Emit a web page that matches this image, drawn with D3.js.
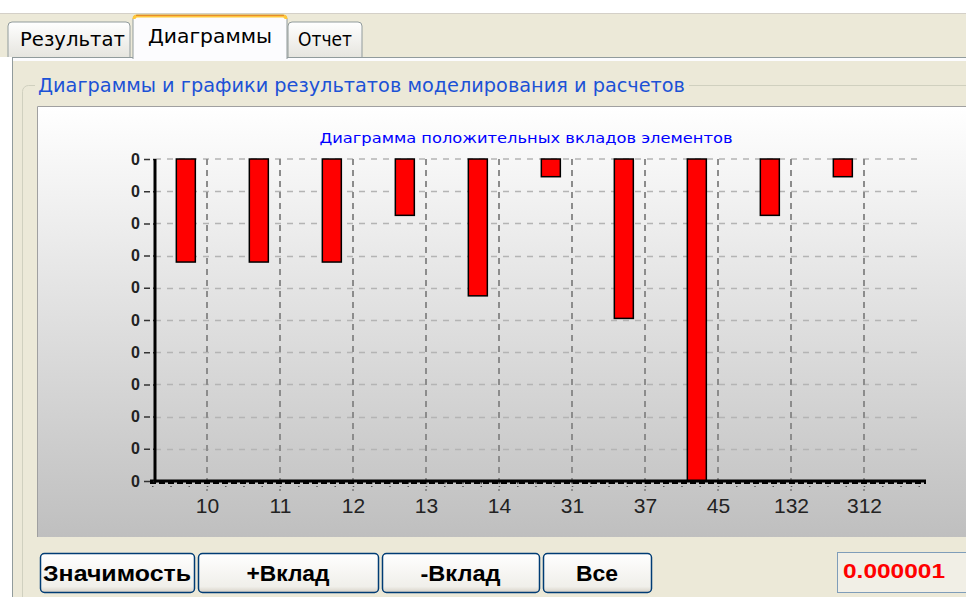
<!DOCTYPE html>
<html>
<head>
<meta charset="utf-8">
<script src="https://cdn.jsdelivr.net/npm/d3@7"></script>
<style>
  body { margin: 0; background: #ffffff; }
  svg { display: block; }
</style>
</head>
<body>
<script>
// chart data
var categories = ["10", "11", "12", "13", "14", "31", "37", "45", "132", "312"];
var contributions = [3.2e-7, 3.2e-7, 3.2e-7, 1.75e-7, 4.25e-7, 0.55e-7, 4.95e-7, 10e-7, 1.75e-7, 0.55e-7];
var yMax = 1e-6;

// texts of the window
var tabLabels = ["Результат", "Диаграммы", "Отчет"];
var groupTitle = "Диаграммы и графики результатов моделирования и расчетов";
var chartTitle = "Диаграмма положительных вкладов элементов";
var buttonLabels = ["Значимость", "+Вклад", "-Вклад", "Все"];
var thresholdText = "0.000001";

var w = 966, h = 597;

var svg = d3.select("body").append("svg")
  .attr("width", w)
  .attr("height", h);

var defs = svg.append("defs");

// gradients
var g1 = defs.append("linearGradient").attr("id", "panelGrad").attr("x1", 0).attr("y1", 0).attr("x2", 0).attr("y2", 1);
g1.append("stop").attr("offset", "0%").attr("stop-color", "#ffffff");
g1.append("stop").attr("offset", "100%").attr("stop-color", "#bfbfbf");

var g2 = defs.append("linearGradient").attr("id", "tabGrad").attr("x1", 0).attr("y1", 0).attr("x2", 0).attr("y2", 1);
g2.append("stop").attr("offset", "0%").attr("stop-color", "#ffffff");
g2.append("stop").attr("offset", "100%").attr("stop-color", "#e6e5df");

var g3 = defs.append("linearGradient").attr("id", "btnGrad").attr("x1", 0).attr("y1", 0).attr("x2", 0).attr("y2", 1);
g3.append("stop").attr("offset", "0%").attr("stop-color", "#ffffff");
g3.append("stop").attr("offset", "85%").attr("stop-color", "#f0efea");
g3.append("stop").attr("offset", "100%").attr("stop-color", "#d6d0c5");

// ---------- window frame ----------
svg.append("rect").attr("x", 0).attr("y", 0).attr("width", w).attr("height", h).attr("fill", "#ffffff");
svg.append("rect").attr("x", 0).attr("y", 13).attr("width", w).attr("height", 44).attr("fill", "#ece9d8");
svg.append("line").attr("x1", 0).attr("x2", w).attr("y1", 13.5).attr("y2", 13.5).attr("stroke", "#d4d0c8");

// tab page
svg.append("rect").attr("x", 12).attr("y", 57).attr("width", w).attr("height", h).attr("fill", "#ece9d8");
svg.append("line").attr("x1", 12).attr("x2", w).attr("y1", 57.5).attr("y2", 57.5).attr("stroke", "#919b9c");
svg.append("line").attr("x1", 12).attr("x2", w).attr("y1", 59.5).attr("y2", 59.5).attr("stroke", "#fcfcfe").attr("stroke-width", 3);
svg.append("line").attr("x1", 12.5).attr("x2", 12.5).attr("y1", 57).attr("y2", h).attr("stroke", "#919b9c");

// tabs
var tabs = [
  {x: 8, x2: 130, y: 22, active: false, tx: 20, tw: 105, ty: 46},
  {x: 133, x2: 287, y: 15, active: true, tx: 148, tw: 124, ty: 43},
  {x: 288, x2: 362, y: 22, active: false, tx: 298, tw: 54, ty: 46}
];

function tabPath(t) {
  var r = 4, b = t.active ? 59 : 57;
  return "M" + t.x + "," + b + "V" + (t.y + r) + "Q" + t.x + "," + t.y + " " + (t.x + r) + "," + t.y +
    "H" + (t.x2 - r) + "Q" + t.x2 + "," + t.y + " " + t.x2 + "," + (t.y + r) + "V" + b;
}

tabs.forEach(function(t, i) {
  svg.append("path")
    .attr("d", tabPath(t))
    .attr("fill", t.active ? "#fcfcfe" : "url(#tabGrad)")
    .attr("stroke", "#919b9c")
    .attr("stroke-width", 1);
  if (t.active) {
    svg.append("path")
      .attr("d", "M" + (t.x + 1) + "," + (t.y + 4) + "Q" + (t.x + 1) + "," + (t.y + 1) + " " + (t.x + 4) + "," + (t.y + 1) +
        "H" + (t.x2 - 4) + "Q" + (t.x2 - 1) + "," + (t.y + 1) + " " + (t.x2 - 1) + "," + (t.y + 4))
      .attr("fill", "none")
      .attr("stroke", "#ffc83c")
      .attr("stroke-width", 3);
    svg.append("line").attr("x1", t.x + 3).attr("x2", t.x2 - 3).attr("y1", t.y + 0.5).attr("y2", t.y + 0.5)
      .attr("stroke", "#e68b2c");
  }
  svg.append("text")
    .attr("x", t.tx)
    .attr("y", t.ty)
    .attr("textLength", t.tw)
    .attr("lengthAdjust", "spacingAndGlyphs")
    .style("font-family", "DejaVu Sans, sans-serif")
    .style("font-size", "20px")
    .attr("fill", "#000000")
    .text(tabLabels[i]);
});

// group box
svg.append("rect")
  .attr("x", 22.5).attr("y", 85.5)
  .attr("width", w).attr("height", h)
  .attr("rx", 6)
  .attr("fill", "none")
  .attr("stroke", "#d0d0bf");
svg.append("rect").attr("x", 35).attr("y", 78).attr("width", 654).attr("height", 18).attr("fill", "#ece9d8");
svg.append("text")
  .attr("x", 38)
  .attr("y", 92)
  .attr("textLength", 647)
  .attr("lengthAdjust", "spacingAndGlyphs")
  .style("font-family", "DejaVu Sans, sans-serif")
  .style("font-size", "19px")
  .attr("fill", "#1c52d6")
  .text(groupTitle);

// ---------- chart panel ----------
var panel = {x: 37, y: 106, x2: w + 2, y2: 537};
svg.append("rect")
  .attr("x", panel.x).attr("y", panel.y)
  .attr("width", panel.x2 - panel.x).attr("height", panel.y2 - panel.y)
  .attr("fill", "url(#panelGrad)");
svg.append("path")
  .attr("d", "M" + (panel.x + 0.5) + "," + panel.y2 + "V" + (panel.y + 0.5) + "H" + panel.x2)
  .attr("fill", "none")
  .attr("stroke", "#a0a0a0");

svg.append("text")
  .attr("x", 526)
  .attr("y", 143)
  .attr("text-anchor", "middle")
  .attr("textLength", 413)
  .attr("lengthAdjust", "spacingAndGlyphs")
  .style("font-family", "DejaVu Sans, sans-serif")
  .style("font-size", "14px")
  .attr("fill", "#0000ff")
  .text(chartTitle);

// plot area
var plot = {left: 155, top: 159, bottom: 481, right: 926};

var yScale = d3.scaleLinear()
  .domain([0, yMax])
  .range([plot.top, plot.bottom]);

// category index -> x of label / gridline
var xScale = d3.scaleLinear()
  .domain([0, categories.length - 1])
  .range([207, 864]);

var barShift = 0.29;   // bars sit left of their label
var barWidth = 19;

var yTicks = yScale.ticks(10);

// horizontal grid
svg.append("g").selectAll("line")
  .data(yTicks.slice(1))
  .enter().append("line")
  .attr("x1", plot.left)
  .attr("x2", 921)
  .attr("y1", d => Math.round(yScale(d)) + 0.5)
  .attr("y2", d => Math.round(yScale(d)) + 0.5)
  .attr("stroke", "#b4b4b4")
  .attr("stroke-width", 1.5)
  .attr("stroke-dasharray", "6,6");
svg.append("line")
  .attr("x1", plot.left).attr("x2", 921)
  .attr("y1", plot.top).attr("y2", plot.top)
  .attr("stroke", "#b4b4b4").attr("stroke-width", 1.5).attr("stroke-dasharray", "6,6");

// vertical grid
svg.append("g").selectAll("line")
  .data(categories)
  .enter().append("line")
  .attr("x1", (d, i) => xScale(i))
  .attr("x2", (d, i) => xScale(i))
  .attr("y1", plot.top)
  .attr("y2", plot.bottom + 10)
  .attr("stroke", "#8c8c8c")
  .attr("stroke-width", 2)
  .attr("stroke-dasharray", "6,5");

// bars
svg.append("g").selectAll("rect")
  .data(contributions)
  .enter().append("rect")
  .attr("x", (d, i) => xScale(i - barShift) - barWidth / 2)
  .attr("y", yScale(0))
  .attr("width", barWidth)
  .attr("height", d => yScale(d) - yScale(0))
  .attr("fill", "#ff0000")
  .attr("stroke", "#000000")
  .attr("stroke-width", 1.5);

// x axis: minor ticks on quarter steps, labels under categories
var minorTicks = d3.range(-3, 40).map(k => k / 4);
var xMinor = svg.append("g")
  .attr("transform", "translate(0," + plot.bottom + ")")
  .call(d3.axisBottom(xScale).tickValues(minorTicks).tickSize(6).tickFormat(""));
xMinor.select(".domain").remove();
xMinor.selectAll(".tick line").attr("stroke", "#555").attr("stroke-width", 1.5).attr("stroke-dasharray", "3,2");

var xAxis = svg.append("g")
  .attr("transform", "translate(0," + (plot.bottom + 2) + ")")
  .call(d3.axisBottom(xScale)
    .tickValues(d3.range(categories.length))
    .tickSize(0)
    .tickPadding(15)
    .tickFormat(i => categories[i]));
xAxis.select(".domain").remove();
xAxis.selectAll("text")
  .style("font-family", "Liberation Sans, Arial, sans-serif")
  .style("font-size", "21px")
  .attr("fill", "#222");

svg.append("line")
  .attr("x1", 150).attr("x2", plot.right)
  .attr("y1", plot.bottom).attr("y2", plot.bottom)
  .attr("stroke", "#000").attr("stroke-width", 3);
svg.append("line")
  .attr("x1", 150).attr("x2", plot.right)
  .attr("y1", plot.bottom + 2).attr("y2", plot.bottom + 2)
  .attr("stroke", "#000").attr("stroke-width", 2).attr("stroke-dasharray", "6,3");

// y axis
var yAxis = svg.append("g")
  .attr("transform", "translate(" + plot.left + ",0)")
  .call(d3.axisLeft(yScale).tickValues(yTicks).tickSize(12).tickPadding(3).tickFormat(d3.format(".0f")));
yAxis.select(".domain").remove();
yAxis.selectAll(".tick line").attr("stroke", "#333").attr("stroke-width", 1.5).attr("stroke-dasharray", "2,3,6");
yAxis.selectAll("text")
  .style("font-family", "Liberation Sans, Arial, sans-serif")
  .style("font-size", "16px")
  .style("font-weight", "bold")
  .attr("fill", "#222");

svg.append("line")
  .attr("x1", plot.left).attr("x2", plot.left)
  .attr("y1", plot.top).attr("y2", plot.bottom + 1.5)
  .attr("stroke", "#000").attr("stroke-width", 3);

// ---------- buttons ----------
var buttons = [
  {x: 40, x2: 194, tw: 148},
  {x: 198, x2: 378, tw: 83},
  {x: 382, x2: 539, tw: 80},
  {x: 543, x2: 651, tw: 42}
];
buttons.forEach(function(b, i) {
  svg.append("rect")
    .attr("x", b.x + 0.5).attr("y", 553.5)
    .attr("width", b.x2 - b.x).attr("height", 39)
    .attr("rx", 4)
    .attr("fill", "url(#btnGrad)")
    .attr("stroke", "#003c74")
    .attr("stroke-width", 1.5);
  svg.append("text")
    .attr("x", (b.x + b.x2) / 2)
    .attr("y", 581)
    .attr("text-anchor", "middle")
    .attr("textLength", b.tw)
    .attr("lengthAdjust", "spacingAndGlyphs")
    .style("font-family", "Liberation Sans, Arial, sans-serif")
    .style("font-size", "22px")
    .style("font-weight", "bold")
    .attr("fill", "#000")
    .text(buttonLabels[i]);
});

// threshold box
svg.append("rect")
  .attr("x", 837.5).attr("y", 552.5)
  .attr("width", 140).attr("height", 40)
  .attr("fill", "#f1efe6")
  .attr("stroke", "#7f9db9");
svg.append("text")
  .attr("x", 843)
  .attr("y", 578)
  .attr("textLength", 102)
  .attr("lengthAdjust", "spacingAndGlyphs")
  .style("font-family", "Liberation Sans, Arial, sans-serif")
  .style("font-size", "21px")
  .style("font-weight", "bold")
  .attr("fill", "#ff0000")
  .text(thresholdText);
</script>
</body>
</html>
